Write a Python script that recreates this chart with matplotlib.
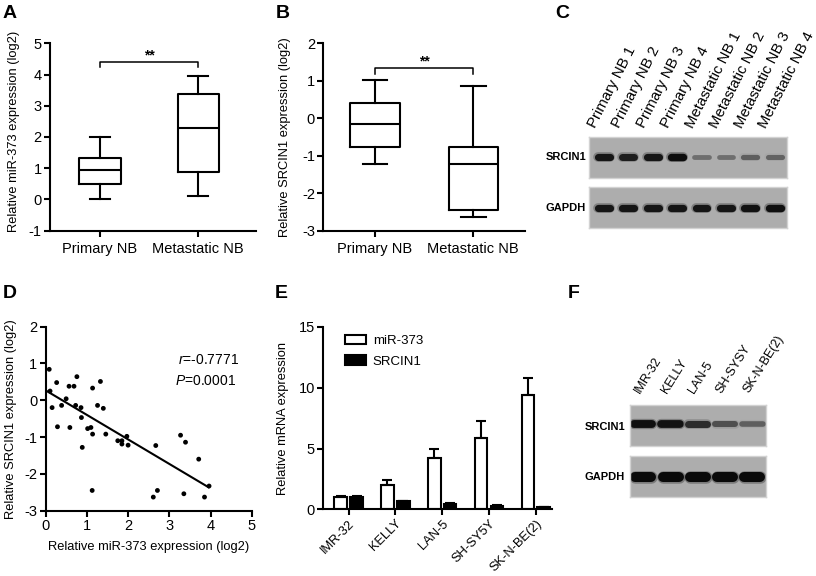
import numpy as np
import matplotlib.pyplot as plt
from matplotlib.patches import Patch

plt.rcParams['font.family'] = ['Liberation Sans', 'DejaVu Sans']
plt.rcParams['mathtext.fontset'] = 'custom'
plt.rcParams['mathtext.it'] = 'Liberation Sans:italic'
plt.rcParams['mathtext.rm'] = 'Liberation Sans'
plt.rcParams['axes.unicode_minus'] = False

# ---- data ----
# A: miR-373 box plot
a_groups = ['Primary NB', 'Metastatic NB']
a_whislo = [0.0, 0.1]
a_q1 = [0.5, 0.87]
a_med = [0.93, 2.28]
a_q3 = [1.32, 3.38]
a_whishi = [2.0, 3.95]
a_bracket = 4.4

# B: SRCIN1 box plot
b_groups = ['Primary NB', 'Metastatic NB']
b_whislo = [-1.22, -2.63]
b_q1 = [-0.76, -2.45]
b_med = [-0.15, -1.22]
b_q3 = [0.42, -0.77]
b_whishi = [1.03, 0.87]
b_bracket = 1.33

# C: western blot, tissues
c_lanes = ['Primary NB 1', 'Primary NB 2', 'Primary NB 3', 'Primary NB 4',
           'Metastatic NB 1', 'Metastatic NB 2', 'Metastatic NB 3', 'Metastatic NB 4']
c_srcin1 = [0.92, 0.88, 0.92, 0.98, 0.35, 0.35, 0.45, 0.42]
c_gapdh = [0.93, 0.93, 0.93, 0.93, 0.93, 0.93, 0.95, 0.97]

# D: correlation scatter
d_x = [0.09, 0.27, 0.11, 0.57, 0.69, 0.76, 1.14, 1.33, 0.16, 0.39, 0.50, 0.73,
       0.86, 0.87, 1.26, 1.40, 0.29, 0.59, 1.02, 1.10, 1.14, 0.89, 1.46, 1.75,
       1.85, 1.85, 1.97, 2.00, 1.13, 2.67, 3.27, 3.39, 3.71, 3.96, 2.71, 2.61,
       3.35, 3.85]
d_y = [0.84, 0.48, 0.25, 0.38, 0.38, 0.64, 0.33, 0.51, -0.20, -0.14, 0.04, -0.14,
       -0.20, -0.47, -0.14, -0.22, -0.72, -0.74, -0.77, -0.74, -0.92, -1.28, -0.92, -1.10,
       -1.10, -1.19, -0.98, -1.22, -2.45, -1.23, -0.95, -1.14, -1.60, -2.33, -2.45, -2.63,
       -2.54, -2.63]
fit_intercept = 0.27
fit_slope = -0.667
fit_range = [0.0, 3.95]
r_text = '-0.7771'
p_text = '0.0001'

# E: qPCR bars
e_lines = ['IMR-32', 'KELLY', 'LAN-5', 'SH-SY5Y', 'SK-N-BE(2)']
e_mir = [1.0, 2.0, 4.2, 5.9, 9.4]
e_mir_err = [0.08, 0.45, 0.8, 1.4, 1.4]
e_src = [1.0, 0.65, 0.45, 0.3, 0.17]
e_src_err = [0.07, 0.06, 0.05, 0.04, 0.03]

# F: western blot, cell lines
f_lanes = ['IMR-32', 'KELLY', 'LAN-5', 'SH-SYSY', 'SK-N-BE(2)']
f_srcin1 = [0.97, 0.95, 0.78, 0.55, 0.45]
f_gapdh = [1.0, 1.0, 1.0, 1.0, 1.0]

# ---- layout helpers (pixel positions on an 816x576 canvas) ----
W, H = 816, 576
fig = plt.figure(figsize=(W / 100, H / 100), dpi=100)


def px_axes(left, top, right, bottom):
    return fig.add_axes([left / W, 1 - bottom / H, (right - left) / W, (bottom - top) / H])


def fx(px):
    return px / W


def fy(py):
    return 1 - py / H


def style_axes(ax):
    for s in ['top', 'right']:
        ax.spines[s].set_visible(False)
    for s in ['left', 'bottom']:
        ax.spines[s].set_linewidth(1.5)
    ax.tick_params(width=1.5, length=4, labelsize=10.5, pad=2, colors='k')


def draw_box(ax, groups, lo, q1, med, q3, hi, width):
    stats = [dict(label=g, whislo=lo[i], q1=q1[i], med=med[i], q3=q3[i], whishi=hi[i])
             for i, g in enumerate(groups)]
    lp = dict(color='k', linewidth=1.5)
    ax.bxp(stats, widths=width, showfliers=False, boxprops=lp, whiskerprops=lp,
           capprops=lp, medianprops=lp)


def bracket(ax, y, drop, txt_gap):
    ax.plot([1, 1, 2, 2], [y - drop, y, y, y - drop], color='k', lw=1.1)
    ax.text(1.5, y + txt_gap, '**', ha='center', va='bottom', fontsize=10, fontweight='bold')


def draw_blot(ax, levels, hmax_px, yc, len_px, xlim):
    ax.set_facecolor('#adadad')
    lane_px = (ax.get_position().width * W) / (xlim[1] - xlim[0])
    for i, v in enumerate(levels):
        g = 0.6 * (1 - v) + 0.04
        h_px = hmax_px * (0.45 + 0.55 * v)
        half = max(len_px - h_px, 2) / 2 / lane_px
        xs = [i + 1 - half, i + 1 + half]
        ax.plot(xs, [yc, yc], color=str(min(g + 0.25, 0.8)), lw=(h_px + 2.5) * 0.72,
                solid_capstyle='round', alpha=0.5)
        ax.plot(xs, [yc, yc], color=str(g), lw=h_px * 0.72, solid_capstyle='round')
    ax.set_xlim(*xlim)
    ax.set_ylim(0, 1)
    ax.set_xticks([])
    ax.set_yticks([])
    for s in ax.spines.values():
        s.set_color('#d2d2d2')
        s.set_linewidth(1)


# ---- A ----
axa = px_axes(50, 43.3, 256, 230.5)
draw_box(axa, a_groups, a_whislo, a_q1, a_med, a_q3, a_whishi, 0.42)
style_axes(axa)
axa.tick_params(axis='x', labelsize=10.5, pad=4)
axa.set_xlim(0.49, 2.59)
axa.set_ylim(-1, 5)
axa.set_yticks(range(-1, 6))
bracket(axa, a_bracket, 0.16, 0.0)
axa.set_ylabel('Relative miR-373 expression (log2)', fontsize=9.3, va='center')
axa.yaxis.set_label_coords((14 - 50) / 206, 0.53)

# ---- B ----
axb = px_axes(323.3, 43.3, 525, 230.8)
draw_box(axb, b_groups, b_whislo, b_q1, b_med, b_q3, b_whishi, 0.5)
style_axes(axb)
axb.tick_params(axis='x', labelsize=10.5, pad=4)
axb.set_xlim(0.474, 2.526)
axb.set_ylim(-3, 2)
axb.set_yticks(range(-3, 3))
bracket(axb, b_bracket, 0.14, 0.0)
axb.set_ylabel('Relative SRCIN1 expression (log2)', fontsize=9.3, va='center')
axb.yaxis.set_label_coords((285 - 323.3) / 201.7, 0.5)

# ---- C ----
c_xlim = (0.39, 8.49)
axc1 = px_axes(589, 137.3, 786.7, 178.3)
draw_blot(axc1, c_srcin1, 7.5, 0.53, 19, c_xlim)
axc2 = px_axes(589, 187.3, 786.7, 228.3)
draw_blot(axc2, c_gapdh, 7.5, 0.5, 19, c_xlim)
for i, lab in enumerate(c_lanes):
    axc1.text(i + 1 - 0.25, 1.17, lab, transform=axc1.get_xaxis_transform(),
              rotation=63, rotation_mode='anchor', ha='left', va='bottom', fontsize=10.8)
fig.text(fx(586), fy(157), 'SRCIN1', ha='right', va='center', fontsize=8, fontweight='bold')
fig.text(fx(586), fy(208), 'GAPDH', ha='right', va='center', fontsize=8, fontweight='bold')

# ---- D ----
axd = px_axes(45.5, 326.6, 252, 510.7)
axd.scatter(d_x, d_y, s=12, color='k', edgecolors='none', clip_on=False, zorder=3)
fx_line = np.array(fit_range)
axd.plot(fx_line, fit_intercept + fit_slope * fx_line, color='k', lw=1.5)
style_axes(axd)
axd.set_xlim(0, 5)
axd.set_ylim(-3, 2)
axd.set_xticks(range(0, 6))
axd.set_yticks(range(-3, 3))
axd.set_xlabel('Relative miR-373 expression (log2)', fontsize=9.3)
axd.xaxis.set_label_coords(0.5, -(547 - 510.7) / 184.1 + 0.03)
axd.set_ylabel('Relative SRCIN1 expression (log2)', fontsize=9.3, va='center')
axd.yaxis.set_label_coords((11 - 45.5) / 206.5, 0.5)
axd.text(0.642, 0.819, r'$\mathit{r}$=' + r_text, transform=axd.transAxes,
         fontsize=10, ha='left', va='center')
axd.text(0.627, 0.705, r'$\mathit{P}$=' + p_text, transform=axd.transAxes,
         fontsize=10, ha='left', va='center')

# ---- E ----
axe = px_axes(323.3, 327, 551.7, 509.3)
xe = np.arange(len(e_lines))
ekw = dict(ecolor='k', elinewidth=1.5, capsize=3.5, capthick=1.5)
axe.bar(xe - 0.17, e_mir, width=0.27, color='white', edgecolor='k', linewidth=1.5,
        yerr=[np.zeros(len(e_mir)), e_mir_err], error_kw=ekw)
axe.bar(xe + 0.17, e_src, width=0.27, color='k', edgecolor='k', linewidth=1.5,
        yerr=[np.zeros(len(e_src)), e_src_err], error_kw=ekw)
style_axes(axe)
axe.set_xlim(-0.54, 4.34)
axe.set_ylim(0, 15)
axe.set_yticks([0, 5, 10, 15])
axe.set_xticks(xe)
axe.set_xticklabels(e_lines, rotation=45, ha='right', rotation_mode='anchor', fontsize=9.3)
axe.set_ylabel('Relative mRNA expression', fontsize=9.3, va='center')
axe.yaxis.set_label_coords((283 - 323.3) / 228.4, 0.5)
handles = [Patch(facecolor='white', edgecolor='k', linewidth=1.5, label='miR-373'),
           Patch(facecolor='k', edgecolor='k', linewidth=1.5, label='SRCIN1')]
axe.legend(handles=handles, loc='upper left', bbox_to_anchor=(0.095, 0.955), frameon=False,
           fontsize=9.5, handlelength=1.6, handleheight=0.7, handletextpad=0.5,
           labelspacing=0.6, borderaxespad=0, borderpad=0)

# ---- F ----
f_xlim = (0.51, 5.49)
axf1 = px_axes(630, 405, 765.7, 446)
draw_blot(axf1, f_srcin1, 8.0, 0.53, 26, f_xlim)
axf2 = px_axes(630, 456, 765.7, 496.7)
draw_blot(axf2, f_gapdh, 10.0, 0.48, 26, f_xlim)
for i, lab in enumerate(f_lanes):
    axf1.text(i + 1 - 0.05, 1.24, lab, transform=axf1.get_xaxis_transform(),
              rotation=58, rotation_mode='anchor', ha='left', va='bottom', fontsize=9)
fig.text(fx(625), fy(427), 'SRCIN1', ha='right', va='center', fontsize=8, fontweight='bold')
fig.text(fx(625), fy(477), 'GAPDH', ha='right', va='center', fontsize=8, fontweight='bold')

# ---- panel letters ----
for lab, lx, ly in [('A', 3, 13), ('B', 276, 13), ('C', 555, 13),
                    ('D', 3, 293), ('E', 275, 294), ('F', 568, 294)]:
    fig.text(fx(lx), fy(ly), lab, fontsize=14, fontweight='bold', ha='left', va='center')

fig.savefig('out.png', dpi=100)
